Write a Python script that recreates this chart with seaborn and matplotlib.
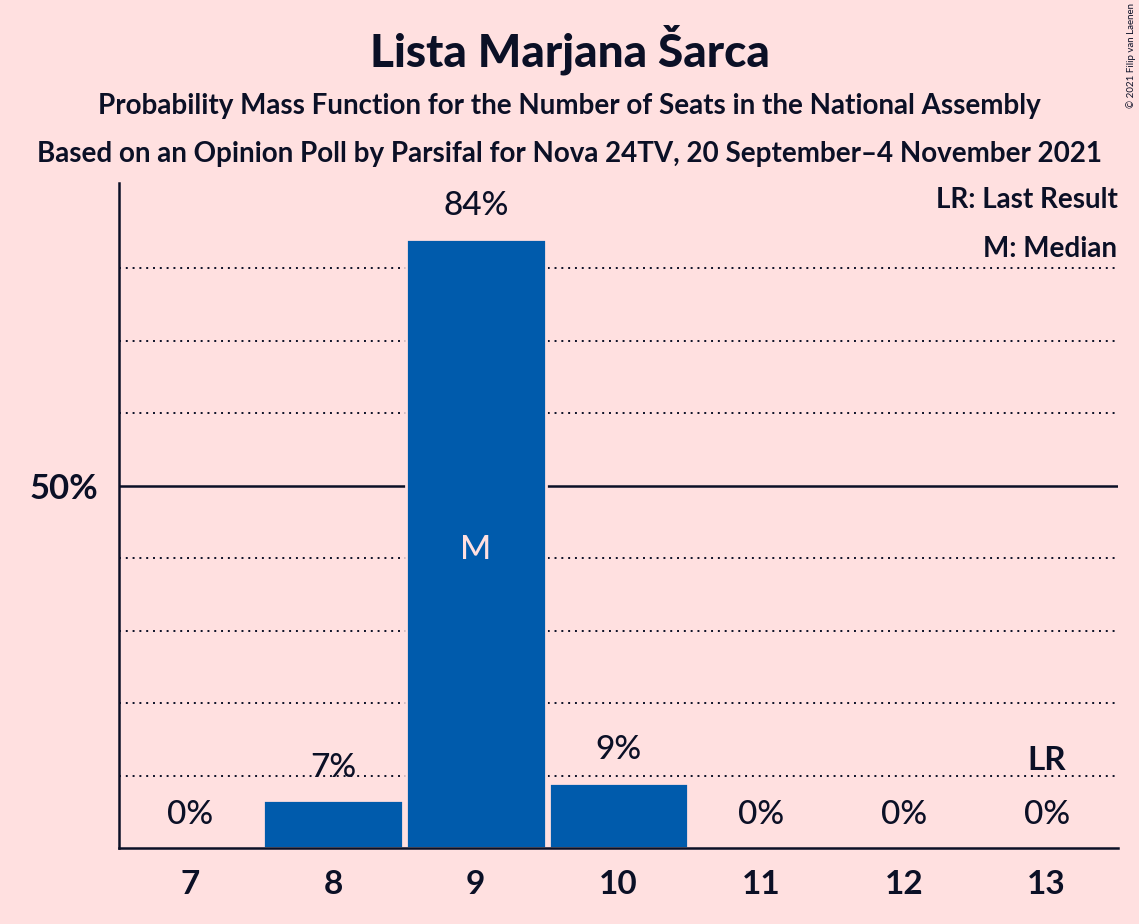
import matplotlib
matplotlib.use("Agg")
import matplotlib.pyplot as plt
import seaborn as sns
import pandas as pd

# data
seats = ["7", "8", "9", "10", "11", "12", "13"]
probability = [0, 6.6, 84.1, 9.0, 0, 0, 0]
value_labels = ["0%", "7%", "84%", "9%", "0%", "0%", "0%"]
median_seat = "9"
last_result_seat = "13"
grid_minor = [10, 20, 30, 40, 60, 70, 80]
grid_major = [50]

BG = "#FFE0E0"
BAR = "#005BAC"
INK = "#0B1026"

sns.set_theme(style="white", rc={"axes.facecolor": BG, "figure.facecolor": BG})
plt.rcParams["font.family"] = ["Lato", "DejaVu Sans"]

df = pd.DataFrame({"seats": seats, "prob": probability})

fig = plt.figure(figsize=(11.39, 9.24), dpi=100)
ax = fig.add_axes([0.1045, 0.0823, 0.877, 0.7197])

for g in grid_minor:
    ax.axhline(g, color=INK, linestyle=(0, (1, 2.5)), linewidth=1.4, zorder=0)
for g in grid_major:
    ax.axhline(g, color=INK, linewidth=1.8, zorder=0)

sns.barplot(data=df, x="seats", y="prob", order=seats, color=BAR,
            width=0.98, edgecolor=BG, linewidth=2, saturation=1, ax=ax, zorder=2)

for i, (v, lab) in enumerate(zip(probability, value_labels)):
    ax.text(i, v + 4.5, lab, ha="center", va="center", fontsize=24,
            fontweight="medium", color=INK, zorder=3)

mi = seats.index(median_seat)
ax.text(mi, probability[mi] / 2 - 0.9, "M", ha="center", va="center", fontsize=24,
        fontweight="medium", color=BG, zorder=3)
li = seats.index(last_result_seat)
ax.text(li, probability[li] + 12.1, "LR", ha="center", va="center", fontsize=24,
        fontweight="bold", color=INK, zorder=3)

ax.set_xlim(-0.5, 6.5)
ax.set_ylim(0, 91.8)
ax.set_yticks([50])
ax.set_yticklabels(["50%"], fontsize=25, fontweight="bold", color=INK)
ax.set_xticks(range(len(seats)))
ax.set_xticklabels(seats, fontsize=24, fontweight="bold", color=INK)
ax.tick_params(axis="x", length=0, pad=16)
ax.tick_params(axis="y", length=0, pad=15)
ax.set_xlabel("")
ax.set_ylabel("")
for s in ["top", "right"]:
    ax.spines[s].set_visible(False)
for s in ["left", "bottom"]:
    ax.spines[s].set_color(INK)
    ax.spines[s].set_linewidth(1.8)

ax.text(0.9995, 0.975, "LR: Last Result", transform=ax.transAxes, ha="right",
        va="center", fontsize=20, fontweight="bold", color=INK)
ax.text(0.9995, 0.90, "M: Median", transform=ax.transAxes, ha="right",
        va="center", fontsize=20, fontweight="bold", color=INK)

fig.text(0.5, 0.946, "Lista Marjana Šarca", ha="center", va="center",
         fontsize=33, fontweight="black", color=INK)
fig.text(0.5, 0.885, "Probability Mass Function for the Number of Seats in the National Assembly",
         ha="center", va="center", fontsize=20, fontweight="bold", color=INK)
fig.text(0.5, 0.833, "Based on an Opinion Poll by Parsifal for Nova 24TV, 20 September\u20134 November 2021",
         ha="center", va="center", fontsize=20, fontweight="bold", color=INK)
fig.text(0.993, 0.94, "© 2021 Filip van Laenen", rotation=90, ha="center",
         va="center", fontsize=7, color=INK)

fig.savefig("out.png", dpi=100, facecolor=BG)
